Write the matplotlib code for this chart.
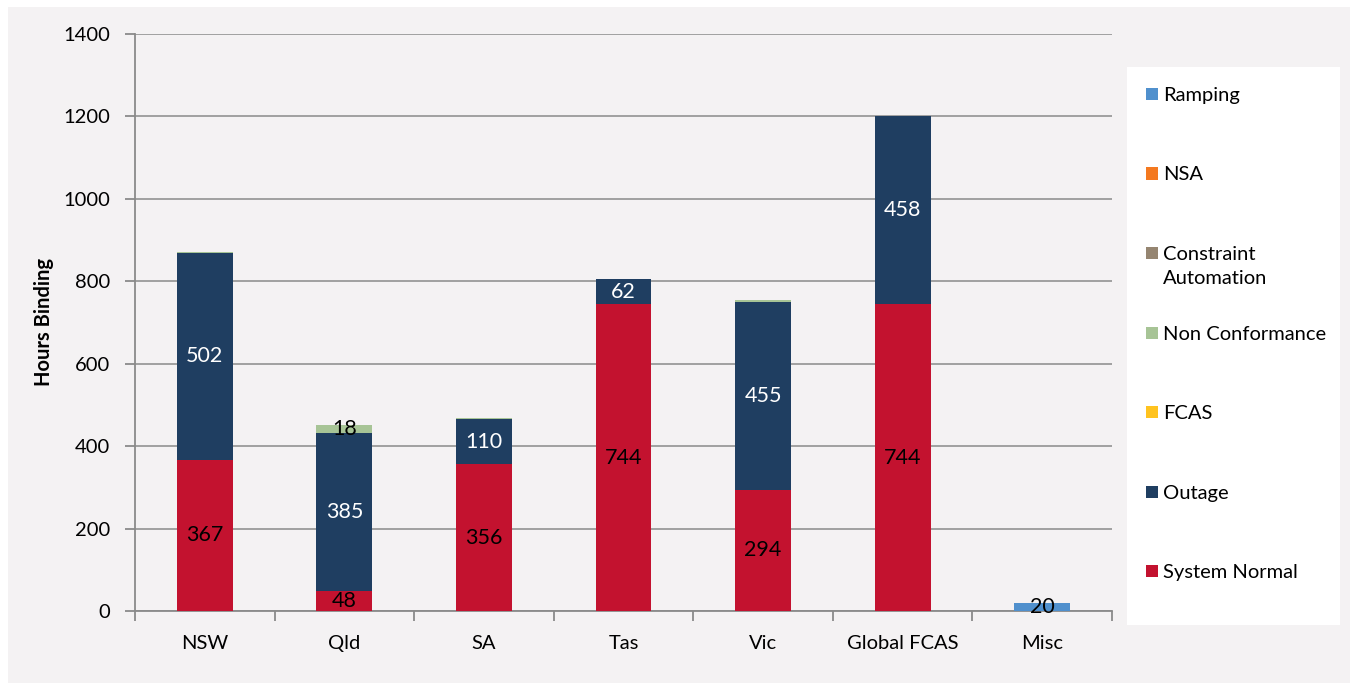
import numpy as np
import matplotlib.pyplot as plt
from matplotlib.patches import Rectangle

plt.rcParams['font.family'] = ['Lato', 'DejaVu Sans']

# Data
regions = ['NSW', 'Qld', 'SA', 'Tas', 'Vic', 'Global FCAS', 'Misc']
system_normal = [367, 48, 356, 744, 294, 744, 0]
outage = [502, 385, 110, 62, 455, 458, 0]
fcas = [0, 0, 0, 0, 0, 0, 0]
non_conformance = [3, 18, 2, 0, 5, 0, 0]
constraint_automation = [0, 0, 0, 0, 0, 0, 0]
nsa = [0, 0, 0, 0, 0, 0, 0]
ramping = [0, 0, 0, 0, 0, 0, 20]

series = [
    ('System Normal', system_normal, '#C3122F', 'black'),
    ('Outage', outage, '#1F3E61', 'white'),
    ('FCAS', fcas, '#FFC31F', 'black'),
    ('Non Conformance', non_conformance, '#A7C496', 'black'),
    ('Constraint\nAutomation', constraint_automation, '#958571', 'black'),
    ('NSA', nsa, '#F47920', 'black'),
    ('Ramping', ramping, '#5090CD', 'black'),
]
min_label = 10  # tiny segments are not labelled

fig = plt.figure(figsize=(13.56, 6.89), dpi=100)
fig.patch.set_facecolor('white')
fig.patches.append(Rectangle((8 / 1356, 6 / 689), 1342 / 1356, 676 / 689,
                             transform=fig.transFigure, facecolor='#F4F2F3',
                             edgecolor='none', zorder=-10))

ax = fig.add_axes([135 / 1356, 1 - 611 / 689, (1112 - 135) / 1356, (611 - 34) / 689])
ax.set_facecolor('none')

x = np.arange(len(regions))
bottom = np.zeros(len(regions))
for name, vals, color, tcolor in series:
    vals = np.array(vals, dtype=float)
    bars = ax.bar(x, vals, 0.4, bottom=bottom, color=color, zorder=3)
    labels = [f'{v:.0f}' if v >= min_label else '' for v in vals]
    ax.bar_label(bars, labels=labels, label_type='center', color=tcolor,
                 fontsize=15.5, zorder=4)
    bottom += vals

ax.set_xlim(-0.5, 6.5)
ax.set_ylim(0, 1400)
ax.set_yticks(np.arange(0, 1401, 200))
ax.set_xticks(x)
ax.set_xticklabels(regions)
ax.set_xticks(np.arange(-0.5, 7, 1), minor=True)
ax.grid(axis='y', color='#9A9A9A', linewidth=1.3, zorder=0)
ax.tick_params(axis='x', which='major', length=0, labelsize=14.5, pad=17)
ax.tick_params(axis='x', which='minor', length=7, color='#8A8A8A', width=1.3)
ax.tick_params(axis='y', length=7, color='#8A8A8A', width=1.3, labelsize=14.5, pad=11)
for s in ['top', 'right']:
    ax.spines[s].set_visible(False)
for s in ['left', 'bottom']:
    ax.spines[s].set_color('#8A8A8A')
    ax.spines[s].set_linewidth(1.3)
ax.set_ylabel('Hours Binding', fontsize=14.5, fontweight='bold')
ax.yaxis.set_label_coords(-0.083, 0.5)

# Legend box drawn on the figure
fig.patches.append(Rectangle((1127 / 1356, 1 - 625 / 689), 213 / 1356, 558 / 689,
                             transform=fig.transFigure, facecolor='white',
                             edgecolor='none', zorder=1))
for i, (name, vals, color, tcolor) in enumerate(reversed(series)):
    yc = 94 + i * 79.5
    fig.text(1163 / 1356, 1 - (yc - 7) / 689, name, fontsize=14.5, va='top',
             ha='left', linespacing=1.5, zorder=3)
    fig.patches.append(Rectangle((1146 / 1356, 1 - (yc + 6) / 689), 12 / 1356, 12 / 689,
                                 transform=fig.transFigure, facecolor=color,
                                 edgecolor='none', zorder=2))

fig.savefig('out.png', dpi=100)
